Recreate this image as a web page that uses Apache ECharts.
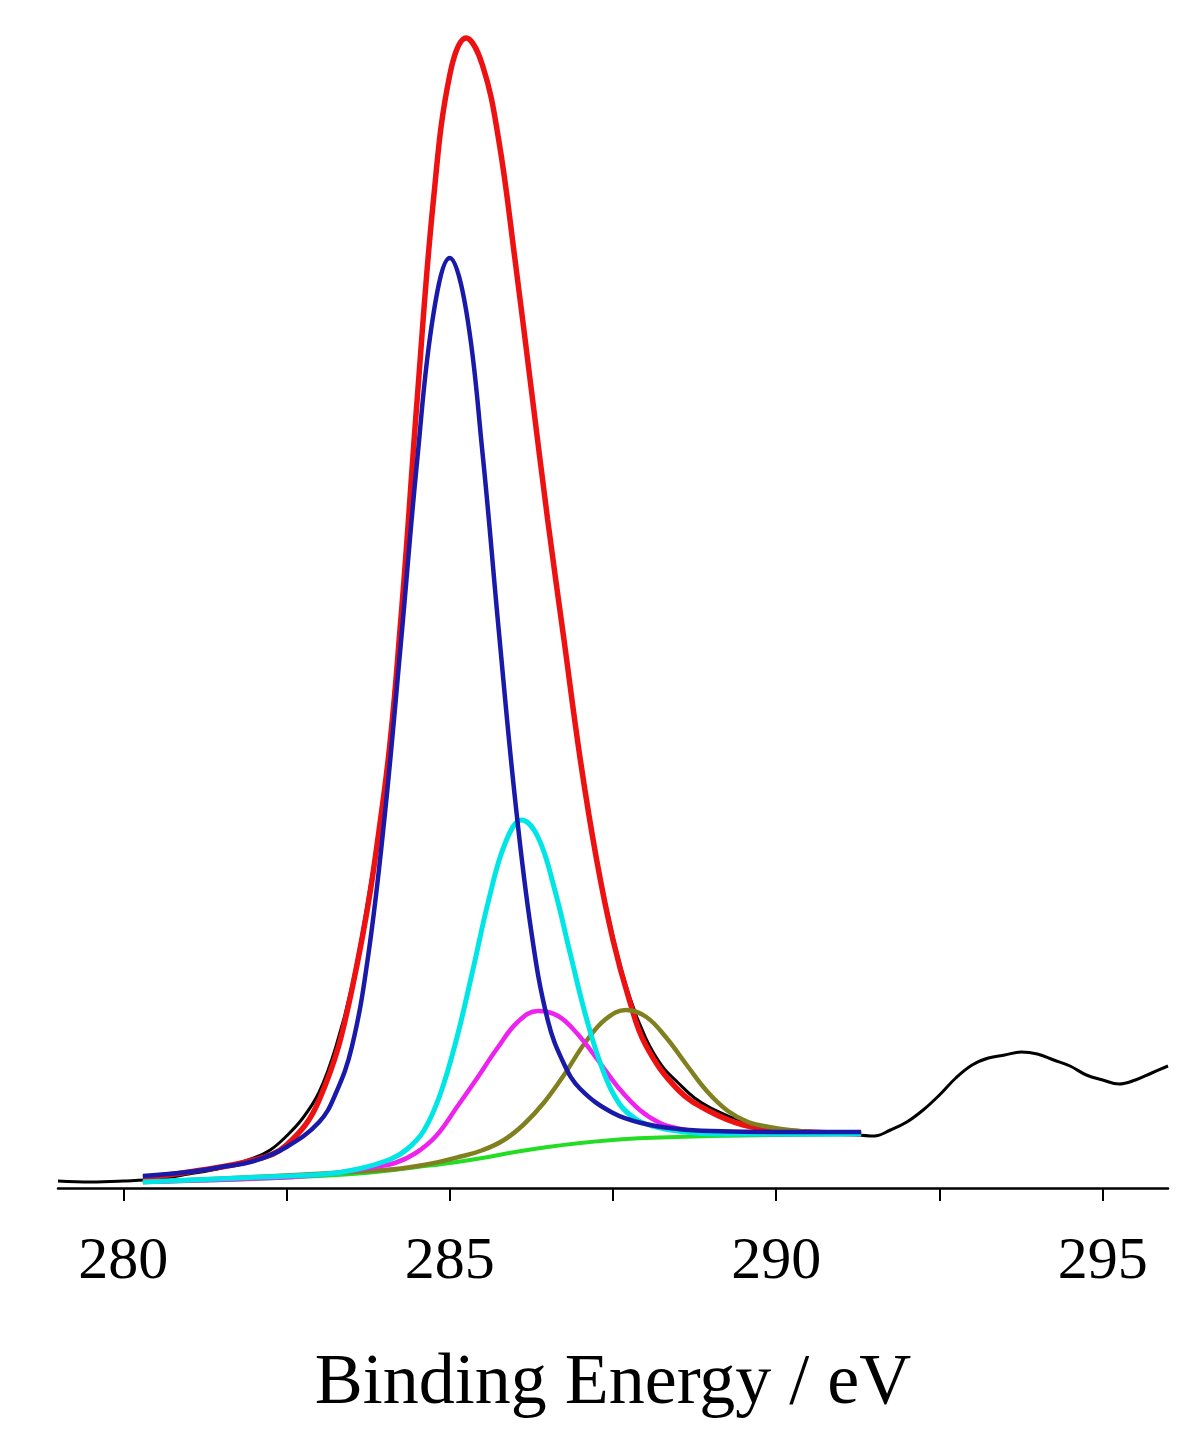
<!DOCTYPE html>
<html>
<head>
<meta charset="utf-8">
<script src="https://cdn.jsdelivr.net/npm/echarts@6/dist/echarts.min.js"></script>
<style>html,body{margin:0;padding:0;background:#fff}#chart{width:1198px;height:1446px}</style>
</head>
<body>
<div id="chart"></div>
<script>
// values (intensity in arbitrary units, baseline 0)
const tickValues = [280, 282.5, 285, 287.5, 290, 292.5, 295];
const labelValues = [280, 285, 290, 295];

const rawData = [[279,7],[279.5,6],[280,7],[280.5,9],[281,14],[281.5,20],[282,30],[282.25,38],[282.5,52],[282.75,70],[283,96],[283.25,140],[283.5,202],[283.75,290],[284,400],[284.25,570],[284.5,790],[284.75,990],[285,1115],[285.25,1150],[285.5,1122],[285.75,1046],[286,925],[286.25,797],[286.5,665],[286.75,546],[287,430],[287.25,330],[287.5,252],[287.75,192],[288,150],[288.25,122],[288.5,105],[288.75,90],[289,80],[289.5,66],[290,58],[290.5,56],[291,55],[291.5,52],[291.75,58],[292,66],[292.25,78],[292.5,93],[292.75,110],[293,123],[293.25,130],[293.5,133],[293.75,136],[294,134],[294.25,128],[294.5,122],[294.75,113],[295,108],[295.25,104],[295.5,108],[295.75,115],[296,122]];

const envelope = [[280.3,10],[281,16],[282,28],[282.5,43],[283,88],[283.5,198],[284,398],[284.25,568],[284.5,788],[284.75,988],[285,1113],[285.25,1150],[285.5,1123],[285.75,1048],[286,928],[286.25,798],[286.5,668],[286.75,548],[287,428],[287.25,328],[287.5,248],[287.75,188],[288,143],[288.5,98],[289,76],[289.5,63],[290,58],[290.5,56],[291.3,54]];

const background = [[280.3,6],[281,7],[282,9],[283,12],[283.5,14],[284,17],[284.5,21],[285,25],[285.5,30],[286,36],[286.5,41],[287,45],[287.5,48],[288,50],[289,52],[290,53],[291.3,54]];

const peakC1 = [[280.3,12],[281,16],[281.5,21],[282,27],[282.5,41],[283,66],[283.25,94],[283.5,141],[283.75,232],[284,370],[284.25,544],[284.5,727],[284.75,874],[285,930],[285.25,878],[285.5,736],[285.75,558],[286,389],[286.25,256],[286.5,168],[286.75,124],[287,99],[287.5,75],[288,64],[288.5,59],[289,57],[290,56],[291.3,56]];

const peakC2 = [[280.3,6],[282.1,11],[283.1,14],[283.6,19],[284.1,29],[284.35,39],[284.6,57],[284.85,93],[285.1,148],[285.35,217],[285.6,289],[285.85,345],[286.1,368],[286.35,351],[286.6,300],[286.85,233],[287.1,168],[287.35,117],[287.6,84],[287.85,69],[288.1,62],[288.6,56],[289.1,54],[290.1,54],[291.3,54]];

const peakC3 = [[280.3,6],[282.6,11],[283.25,15],[283.85,21],[284.16,25],[284.48,35],[284.79,52],[285.1,80],[285.41,109],[285.73,140],[286.04,166],[286.35,177],[286.66,172],[286.97,153],[287.29,126],[287.6,99],[287.91,78],[288.22,65],[288.54,59],[288.85,56],[289.45,54],[290.1,54],[291.3,54]];

const peakC4 = [[280.3,6],[284,18],[284.6,23],[285.2,32],[285.51,38],[285.83,48],[286.14,64],[286.45,86],[286.76,114],[287.08,146],[287.39,169],[287.7,178],[288.01,171],[288.32,150],[288.64,122],[288.95,96],[289.26,77],[289.57,66],[289.89,61],[290.2,58],[290.8,55],[291.3,55]];

const serif = 'Liberation Serif';
const line = (data, color, width) => ({
  type: 'line', data, showSymbol: false, smooth: 0.4, animation: false,
  lineStyle: { color, width }
});

const chart = echarts.init(document.getElementById('chart'));
chart.setOption({
  grid: { left: 58, right: 30, top: 30, bottom: 258 },
  xAxis: {
    type: 'value', min: 279, max: 296,
    name: 'Binding Energy / eV', nameLocation: 'middle', nameGap: 160,
    nameTextStyle: { fontFamily: serif, fontSize: 72, color: '#000' },
    axisLine: { lineStyle: { color: '#000', width: 2.5 } },
    axisTick: { show: true, inside: false, length: 13, customValues: tickValues, lineStyle: { color: '#000', width: 2 } },
    axisLabel: { customValues: labelValues, fontFamily: serif, fontSize: 60, color: '#000', margin: 44 },
    splitLine: { show: false }
  },
  yAxis: { type: 'value', min: 0, max: 1158, show: false },
  series: [
    line(rawData, '#000', 3),
    line(envelope, '#ee1111', 5.5),
    line(background, '#22dd22', 4),
    line(peakC4, '#808020', 4.5),
    line(peakC3, '#ee22ee', 4.5),
    line(peakC2, '#00e5e5', 5),
    line(peakC1, '#1a1aaa', 4.5)
  ]
});
</script>
</body>
</html>
